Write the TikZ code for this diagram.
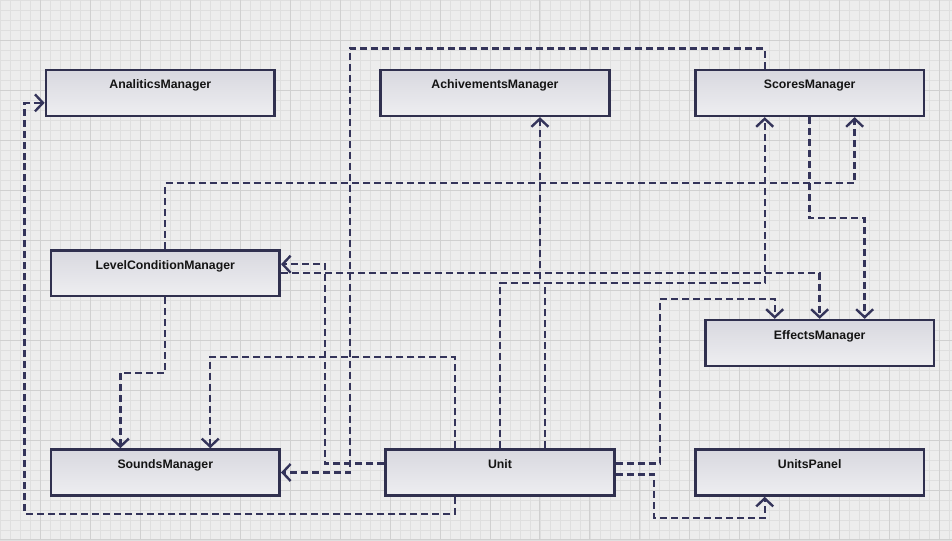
\documentclass[tikz,border=0pt]{standalone}
\usepackage{fontspec}
\setmainfont{Liberation Sans}
\usepackage{xcolor}
\usetikzlibrary{positioning, arrows.meta}

\definecolor{boxline}{HTML}{30304F}
\definecolor{depline}{HTML}{34345A}
\definecolor{boxtop}{HTML}{D8D8DF}
\definecolor{boxbot}{HTML}{EEEEF1}
\definecolor{paper}{HTML}{EDEDED}
\definecolor{gridminor}{HTML}{DFDFDF}
\definecolor{gridmajor}{HTML}{D0D0D0}

\tikzset{
  cls/.style={draw=boxline, line width=2.6pt, top color=boxtop, bottom color=boxbot,
    minimum width=229pt, minimum height=46pt, inner sep=0pt,
    text height=19pt, text depth=27pt, text=black!92,
    font=\fontsize{12.3}{14}\selectfont\bfseries},
  dep/.style={draw=depline, line width=2.4pt, dash pattern=on 7pt off 4pt,
    -{Straight Barb[length=8pt, width=17pt, line width=2.4pt]}}
}

\begin{document}
\begin{tikzpicture}[x=1pt, y=-1pt, node distance=2cm, on grid]
        % background grid
        \fill[paper] (0,0) rectangle (952,540);
        \foreach \g in {0,10,...,950}
            \draw[gridminor, line width=0.7pt] (\g,0) -- (\g,540);
        \foreach \g in {0,10,...,540}
            \draw[gridminor, line width=0.7pt] (0,\g) -- (952,\g);
        \foreach \g in {40,90,...,940}
            \draw[gridmajor, line width=0.9pt] (\g,0) -- (\g,540);
        \foreach \g in {40,90,...,540}
            \draw[gridmajor, line width=0.9pt] (0,\g) -- (952,\g);
        \useasboundingbox (0,0) rectangle (952,540);

        \node[cls] (analitics)   at (160,92.5) {AnaliticsManager};
        \node[cls] (achivements) at (495,92.5) {AchivementsManager};
        \node[cls] (scores)      at (810,92.5) {ScoresManager};
        \node[cls] (sounds)      at (165,472.5)  {SoundsManager};
        \node[cls] (lcm)         [above=199.5pt of sounds] {LevelConditionManager};
        \node[cls] (unit)        [right=335pt of sounds] {Unit};
        \node[cls] (unitspanel)  [right=310pt of unit] {UnitsPanel};
        \node[cls] (effects)     at (820,343) {EffectsManager};

        % Unit
        \draw[dep] ([xshift=-45pt]unit.south) |- (24,514) |- ([yshift=-10pt]analitics.west);
        \draw[dep] ([yshift=9pt]unit.west) -| (325,264) -- ([yshift=9pt]lcm.east);
        \draw[dep] ([xshift=-45pt]unit.north) |- (210,357) -- ([xshift=45pt]sounds.north);
        \draw[dep] (unit.north) |- (540,283) -- ([xshift=45pt]achivements.south);
        \draw[dep] ([xshift=45pt]unit.north) |- (765,283) -- ([xshift=-45pt]scores.south);
        \draw[dep] ([yshift=9pt]unit.east) -| (660,299) -| ([xshift=-45pt]effects.north);
        \draw[dep] ([yshift=-2pt]unit.east) -| (654,518) -| ([xshift=-45pt]unitspanel.south);

        % LevelConditionManager
        \draw[dep] (lcm.south) |- (120,373) -- ([xshift=-45pt]sounds.north);
        \draw[dep] (lcm.north) |- (855,183) -- ([xshift=45pt]scores.south);
        \draw[dep] (lcm.east) -| (effects.north);

        % ScoresManager
        \draw[dep] ([xshift=-45pt]scores.north) |- (350,48) |- (sounds.east);
        \draw[dep] (scores.south) |- (865,218) -- ([xshift=45pt]effects.north);
\end{tikzpicture}
\end{document}
